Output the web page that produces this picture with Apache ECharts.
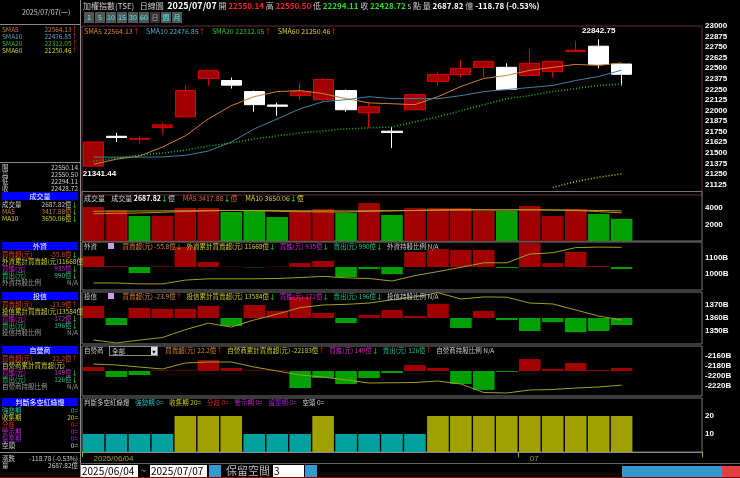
<!DOCTYPE html>
<html>
<head>
<meta charset="utf-8">
<script src="https://cdn.jsdelivr.net/npm/echarts@6/dist/echarts.min.js"></script>
<style>
  body { margin: 0; background: #000; font-family: "Noto Sans CJK TC", "DejaVu Sans", sans-serif; }
  #wrap { position: relative; width: 740px; height: 478px; overflow: hidden; background: #000; }
  #chart { position: absolute; left: 0; top: 0; width: 740px; height: 478px; }
  .t { position: absolute; font-size: 7px; line-height: 8px; white-space: nowrap; color: #ccc; }
  .h { position: absolute; left: 2px; width: 76px; height: 8px; background: #0000ff; color: #fff; font-size: 7px; line-height: 8px; text-align: center; }
  .row { position: absolute; left: 2px; width: 76px; font-size: 6.5px; line-height: 7px; display: flex; justify-content: space-between; white-space: nowrap; }
  .btn { display: inline-block; width: 10px; height: 11px; margin-right: 1px; background: #555; color: #3ff; font-size: 7px; line-height: 11px; text-align: center; vertical-align: top; }
  .inp { position: absolute; top: 465px; height: 12px; background: #fff; color: #000; font-size: 10px; line-height: 12px; padding-left: 1px; }
</style>
</head>
<body>
<div id="wrap">
<div id="chart"></div>
<div id="overlay"></div>
</div>
<script>
const dates = ['2025/06/04','2025/06/05','2025/06/06','2025/06/09','2025/06/10','2025/06/11','2025/06/12','2025/06/13',
  '2025/06/16','2025/06/17','2025/06/18','2025/06/19','2025/06/20','2025/06/23','2025/06/24','2025/06/25',
  '2025/06/26','2025/06/27','2025/06/30','2025/07/01','2025/07/02','2025/07/03','2025/07/04','2025/07/07','','',''];
// open, close, low, high
const ohlc = [
  [21341.44, 21627, 21341.44, 21630], [21695, 21680, 21627, 21735], [21660, 21670, 21605, 21700],
  [21800, 21830, 21720, 21865], [21926, 22236, 21920, 22295], [22380, 22475, 22295, 22480],
  [22355, 22300, 22260, 22390], [22224, 22069, 21985, 22236], [22065, 22050, 21937, 22093],
  [22176, 22224, 22117, 22331], [22128, 22367, 22105, 22380], [22236, 22009, 21985, 22248],
  [21973, 22045, 21794, 22093], [21755, 21740, 21555, 21806], [22009, 22188, 22000, 22200],
  [22343, 22427, 22296, 22463], [22427, 22499, 22391, 22594], [22511, 22582, 22391, 22590],
  [22511, 22248, 22240, 22558], [22415, 22558, 22403, 22725], [22463, 22582, 22391, 22590],
  [22700, 22713, 22690, 22821], [22761, 22546, 22499, 22842.75], [22550.14, 22428.72, 22294.11, 22550.50]
];
const sma5 = [21364, 21424, 21460, 21567, 21700, 21900, 22057, 22164, 22224, 22236, 22200, 22140,
  22090, 22080, 22069, 22164, 22284, 22379, 22415, 22475, 22510, 22546, 22534, 22564.13];
const sma10 = [21448, 21448, 21448, 21450, 21470, 21520, 21627, 21782, 21900, 22021, 22105, 22128,
  22164, 22140, 22140, 22140, 22176, 22224, 22248, 22272, 22296, 22355, 22403, 22476.85];
const sma20 = [21400, 21436, 21472, 21496, 21531, 21579, 21615, 21663, 21699, 21734, 21758, 21782,
  21794, 21806, 21866, 21925, 21997, 22069, 22140, 22176, 22224, 22260, 22296, 22312.05];
const sma60 = [null, null, null, null, null, null, null, null, null, null, null, null,
  null, null, null, null, null, null, null, null, 21090, 21160, 21210, 21250.46];
const volume = [4120, 3760, 3030, 3030, 4000, 4000, 3515, 3760, 2910, 3640, 3880, 3390,
  4600, 3150, 4000, 4000, 4000, 3640, 3640, 4240, 3030, 3880, 3270, 2687.82];
const volMa5 = [3300, 3350, 3400, 3480, 3580, 3650, 3700, 3680, 3600, 3550, 3520, 3500,
  3600, 3650, 3700, 3780, 3820, 3800, 3760, 3800, 3750, 3700, 3560, 3417.88];
const volMa10 = [3600, 3620, 3640, 3650, 3660, 3680, 3700, 3700, 3680, 3660, 3650, 3640,
  3660, 3680, 3700, 3720, 3740, 3760, 3760, 3780, 3760, 3740, 3700, 3650.06];
const foreignNet = [300, 20, -170, 15, 560, 140, 10, -10, 10, 110, 170, -280,
  -60, -200, 420, 500, 480, 480, -30, 670, 110, 420, 30, -55.8];
const foreignCum = [9440, 9440, 9380, 9380, 9620, 9700, 9700, 9700, 9720, 9780, 9850, 9760,
  9720, 9560, 9900, 10150, 10420, 10700, 10700, 11250, 11330, 11650, 11680, 11668];
const trustNet = [41, -24, 34, 31, 31, 41, -27, 44, 24, 71, 17, -17,
  10, 27, 7, 48, -34, 24, -7, -44, -14, -48, -44, -23.9];
const trustCum = [13431, 13408, 13430, 13450, 13510, 13560, 13530, 13585, 13630, 13680, 13700, 13705,
  13715, 13740, 13762, 13795, 13746, 13762, 13760, 13715, 13708, 13662, 13615, 13584];
const dealerNet = [30, -44, -30, 4, 4, 81, 22, 4, 4, -126, -52, -96,
  -52, -15, 44, 22, -96, -140, -7, 89, 15, 59, 7, 22.2];
const dealerCum = [-21760, -21780, -21820, -21860, -21740, -21720, -21720, -21820, -21900, -21980, -22020, -22080,
  -22140, -22135, -22130, -22100, -22160, -22330, -22340, -22280, -22270, -22240, -22220, -22183];
const signal = [10, 10, 10, 10, 20, 20, 20, 10, 10, 10, 20, 10, 10, 10, 10, 20, 20, 20, 20, 20, 20, 20, 20, 20];

const RED = '#a00000', GREEN = '#00a000';
const upDown = (i) => i === 0 ? ohlc[0][1] >= ohlc[0][0] : ohlc[i][1] >= ohlc[i - 1][1];

const grids = [
  { left: 82, right: 38, top: 26, height: 169 },
  { left: 82, right: 38, top: 191.5, height: 49.5 },
  { left: 82, right: 38, top: 242, height: 48 },
  { left: 82, right: 38, top: 292, height: 52 },
  { left: 82, right: 38, top: 346, height: 50 },
  { left: 82, right: 38, top: 398, height: 54 }
];
const xAxes = grids.map((g, i) => ({
  type: 'category', gridIndex: i, data: dates, boundaryGap: true,
  axisLine: { show: i === 5, lineStyle: { color: '#888' } },
  axisTick: { show: i === 5, interval: (idx, v) => v === '2025/06/04' || v === '2025/07/01', lineStyle: { color: '#aa0' } },
  axisLabel: {
    show: i === 5, interval: 0, color: '#aaa020', fontSize: 8, margin: 3, align: 'left',
    formatter: (v) => v === '2025/06/04' ? v : (v === '2025/07/01' ? '07' : '')
  },
  splitLine: { show: false }
}));
const rightAxis = (gi, min, max, interval, show) => ({
  type: 'value', gridIndex: gi, position: 'right', min, max, interval, scale: true,
  axisLine: { show: false }, axisTick: { show: false }, splitLine: { show: false },
  axisLabel: { color: '#fff', fontSize: 8, fontWeight: 'bold', margin: 3, formatter: (v) => show(v) ? fmt(gi, v) : '' }
});
function fmt(gi, v) { return gi >= 2 && gi <= 4 ? (v / 10) + 'B' : String(v); }
const hiddenAxis = (gi, min, max) => ({ type: 'value', gridIndex: gi, min, max, show: false, splitLine: { show: false } });

const yAxes = [
  rightAxis(0, 21000, 23000, 125, (v) => v > 21000),
  rightAxis(1, 0, 6000, 2000, (v) => v === 2000 || v === 4000),
  rightAxis(2, 9000, 12000, 1000, (v) => v === 10000 || v === 11000),
  hiddenAxis(2, -644, 700),
  rightAxis(3, 13400, 13800, 100, (v) => v > 13400 && v < 13800),
  hiddenAxis(3, -88, 88),
  rightAxis(4, -22400, -21400, 200, (v) => v > -22400 && v < -21400),
  hiddenAxis(4, -185, 185),
  rightAxis(5, 0, 30, 10, (v) => v === 10 || v === 20)
];

const netBar = (arr, xi, yi) => ({
  type: 'bar', xAxisIndex: xi, yAxisIndex: yi, barCategoryGap: '6%',
  data: arr.map((v) => ({ value: v, itemStyle: { color: v >= 0 ? RED : GREEN } }))
});
const cumLine = (arr, xi, yi) => ({
  type: 'line', xAxisIndex: xi, yAxisIndex: yi, data: arr, symbol: 'none',
  lineStyle: { color: '#a0a020', width: 1 }
});

const option = {
  backgroundColor: '#000',
  animation: false,
  grid: grids.map((g, i) => Object.assign({ show: true, borderColor: i === 0 ? '#6a2a40' : '#777', borderWidth: 1 }, g)),
  xAxis: xAxes,
  yAxis: yAxes,
  series: [
    {
      type: 'candlestick', xAxisIndex: 0, yAxisIndex: 0, barWidth: '90%',
      data: ohlc,
      itemStyle: { color: RED, color0: '#fff', borderColor: '#e00000', borderColor0: '#fff', borderWidth: 1 },
      markPoint: {
        symbol: 'circle', symbolSize: 0,
        label: { color: '#fff', fontSize: 8, fontWeight: 'bold' },
        data: [
          { type: 'max', valueDim: 'highest', label: { offset: [0, -8], formatter: (p) => p.value.toFixed(2) } },
          { type: 'min', valueDim: 'lowest', label: { offset: [6, 8], formatter: (p) => p.value.toFixed(2) } }
        ]
      }
    },
    { type: 'line', data: sma5, symbol: 'none', lineStyle: { color: '#d08030', width: 1 } },
    { type: 'line', data: sma10, symbol: 'none', lineStyle: { color: '#4080a0', width: 1 } },
    { type: 'line', data: sma20, symbol: 'none', lineStyle: { color: '#20c020', width: 1.5, type: [1, 2] } },
    { type: 'line', data: sma60, symbol: 'none', lineStyle: { color: '#d0d020', width: 1.5, type: [1, 2] } },
    {
      type: 'bar', xAxisIndex: 1, yAxisIndex: 1, barCategoryGap: '6%',
      data: volume.map((v, i) => ({ value: v, itemStyle: { color: upDown(i) ? RED : GREEN } }))
    },
    { type: 'line', xAxisIndex: 1, yAxisIndex: 1, data: volMa5, symbol: 'none', lineStyle: { color: '#d08030', width: 1 } },
    { type: 'line', xAxisIndex: 1, yAxisIndex: 1, data: volMa10, symbol: 'none', lineStyle: { color: '#b0a020', width: 1 } },
    netBar(foreignNet, 2, 3), cumLine(foreignCum, 2, 2),
    netBar(trustNet, 3, 5), cumLine(trustCum, 3, 4),
    netBar(dealerNet, 4, 7), cumLine(dealerCum, 4, 6),
    {
      type: 'bar', xAxisIndex: 5, yAxisIndex: 8, barCategoryGap: '6%',
      data: signal.map((v) => ({ value: v, itemStyle: { color: v >= 20 ? '#a0a000' : '#00a0a0' } }))
    }
  ]
};
echarts.init(document.getElementById('chart')).setOption(option);

// text overlay
const ov = document.getElementById('overlay');
function t(x, y, html, color, size) {
  const d = document.createElement('div');
  d.className = 't'; d.style.left = x + 'px'; d.style.top = y + 'px';
  if (color) d.style.color = color;
  if (size) { d.style.fontSize = size + 'px'; d.style.lineHeight = (size + 1) + 'px'; }
  d.innerHTML = html; ov.appendChild(d);
}
function head(y, txt) {
  const d = document.createElement('div'); d.className = 'h'; d.style.top = y + 'px'; d.textContent = txt; ov.appendChild(d);
}
function row(y, a, b, color) {
  const d = document.createElement('div'); d.className = 'row'; d.style.top = y + 'px'; d.style.color = color || '#ccc';
  d.innerHTML = '<span>' + a + '</span><span>' + b + '</span>'; ov.appendChild(d);
}
function line(x, y, w, h, c) {
  const d = document.createElement('div');
  d.style.cssText = 'position:absolute;left:' + x + 'px;top:' + y + 'px;width:' + w + 'px;height:' + h + 'px;background:' + c;
  ov.appendChild(d);
}
const up = '<span style="color:#f22">↑</span>', dn = '<span style="color:#2f2">↓</span>';

// left panel
line(80, 0, 1, 478, '#888');
line(0, 24, 80, 1, '#888');
t(22, 8, '2025/07/07(一)', '#ccc', 7);
row(26, 'SMA5', '22564.13' + up, '#d08030');
row(33, 'SMA10', '22476.85' + up, '#60a0c0');
row(40, 'SMA20', '22312.05' + up, '#30c030');
row(47, 'SMA60', '21250.46' + up, '#d0d020');
line(0, 162, 80, 1, '#888');
row(164, '開', '22550.14'); row(171, '高', '22550.50'); row(178, '低', '22294.11'); row(185, '收', '22428.72');
head(192, '成交量');
row(201, '成交量', '2687.82億' + dn); row(208, 'MA5', '3417.88億' + dn, '#d08030'); row(215, 'MA10', '3650.06億' + dn, '#d0d020');
head(242, '外資');
row(251, '買賣超(元)', '-55.8億' + dn, '#e04020'); row(258, '外資累計買賣超(元)', '11668億', '#d0d020');
row(265, '買進(元)', '935億' + dn, '#d020d0'); row(272, '賣出(元)', '990億' + dn, '#20c080'); row(279, '外資持股比例', 'N/A', '#999');
head(292, '投信');
row(301, '買賣超(元)', '-23.9億' + up, '#e04020'); row(308, '投信累計買賣超(元)', '13584億', '#d0d020');
row(315, '買進(元)', '172億' + dn, '#d020d0'); row(322, '賣出(元)', '196億' + dn, '#20c080'); row(329, '投信持股比例', 'N/A', '#999');
head(346, '自營商');
row(355, '買賣超(元)', '22.2億' + up, '#e04020'); row(362, '自營商累計買賣超(元)', '', '#d0d020');
row(369, '買進(元)', '149億' + dn, '#d020d0'); row(376, '賣出(元)', '126億' + dn, '#20c080'); row(383, '自營商持股比例', 'N/A', '#999');
head(398, '判斷多空紅綠燈');
row(407, '強勢期', '0=', '#20c0c0'); row(414, '收集期', '20=', '#d0d020'); row(421, '分歧', '0=', '#e02020');
row(428, '警示期', '0=', '#d020d0'); row(435, '盤整期', '0=', '#a020d0'); row(442, '空頭', '0=', '#ccc');
line(0, 452, 80, 1, '#888');
row(455, '漲跌', '-118.78 (-0.53%)'); row(462, '量', '2687.82億');

// top header
t(83, 1, '加權指數(TSE)&nbsp;&nbsp; 日線圖 &nbsp;<b style="color:#fff;font-size:9px">2025/07/07</b> 開 <b style="color:#f22">22550.14</b> 高 <b style="color:#f22">22550.50</b> 低 <b style="color:#2d2">22294.11</b> 收 <b style="color:#2d2">22428.72</b> s 點 量 <b style="color:#fff">2687.82</b> 億 <b style="color:#fff">-118.78 (-0.53%)</b>', '#ccc', 8);
const bt = document.createElement('div');
bt.style.cssText = 'position:absolute;left:84px;top:12px;height:11px;font-size:7px;line-height:11px;white-space:nowrap';
['1', '5', '10', '15', '30', '60', '日', '週', '月'].forEach((s, i) => {
  const b = document.createElement('span'); b.className = 'btn'; b.textContent = s;
  if (i === 6) { b.style.background = '#333'; b.style.color = '#aaa'; }
  bt.appendChild(b);
});
ov.appendChild(bt);

// pane titles
t(84, 27, 'SMA5 22564.13' + up + ' &nbsp;&nbsp;&nbsp;<span style="color:#60a8c8">SMA10 22476.85' + up + '</span>&nbsp;&nbsp;&nbsp; <span style="color:#30c030">SMA20 22312.05' + up + '</span>&nbsp;&nbsp;&nbsp; <span style="color:#e0d030">SMA60 21250.46' + up + '</span>', '#e08030', 7);
t(84, 194, '成交量 &nbsp;&nbsp; 成交量 <b style="color:#fff">2687.82</b>' + dn + '億 &nbsp;&nbsp;&nbsp; <span style="color:#e06030">MA5 3417.88' + dn + '億</span> &nbsp;&nbsp;&nbsp; <span style="color:#e0d030">MA10 3650.06' + dn + '億</span>', '#ccc', 7);
const sq = '<span style="display:inline-block;width:6px;height:6px;background:#c8a0e0;margin:0 8px 0 10px"></span>';
t(84, 243, '外資 ' + sq + '<span style="color:#e08030">買賣超(元) -55.8億</span>' + dn + ' &nbsp; <span style="color:#d0d020">外資累計買賣超(元) 11668億</span>' + dn + ' &nbsp; <span style="color:#d020d0">買進(元) 935億</span>' + dn + ' &nbsp; <span style="color:#20c080">賣出(元) 990億</span>' + dn + ' &nbsp; 外資持股比例 N/A', '#ccc', 6.5);
t(84, 293, '投信 ' + sq + '<span style="color:#e08030">買賣超(元) -23.9億</span>' + up + ' &nbsp; <span style="color:#d0d020">投信累計買賣超(元) 13584億</span>' + dn + ' &nbsp; <span style="color:#d020d0">買進(元) 172億</span>' + dn + ' &nbsp; <span style="color:#20c080">賣出(元) 196億</span>' + dn + ' &nbsp; 投信持股比例 N/A', '#ccc', 6.5);
t(84, 347, '自營商 &nbsp;&nbsp;&nbsp;&nbsp;&nbsp;&nbsp;&nbsp;&nbsp;&nbsp;&nbsp;&nbsp;&nbsp;&nbsp;&nbsp;&nbsp;&nbsp;&nbsp;&nbsp;&nbsp;&nbsp;&nbsp;&nbsp;&nbsp;&nbsp;&nbsp;' + sq + '<span style="color:#e08030">買賣超(元) 22.2億</span>' + up + ' &nbsp; <span style="color:#d0d020">自營商累計買賣超(元) -22183億</span>' + up + ' &nbsp; <span style="color:#d020d0">買進(元) 149億</span>' + dn + ' &nbsp; <span style="color:#20c080">賣出(元) 126億</span>' + up + ' &nbsp; 自營商持股比例 N/A', '#ccc', 6.5);
const sel = document.createElement('div');
sel.style.cssText = 'position:absolute;left:109px;top:346px;width:45px;height:8px;background:#000;border:1px solid #888;color:#ccc;font-size:6.5px;line-height:8px;padding-left:2px';
sel.innerHTML = '全部<span style="float:right;background:#ddd;color:#000;width:6px;text-align:center">▾</span>';
ov.appendChild(sel);
t(84, 399, '判斷多空紅綠燈 &nbsp;&nbsp; <span style="color:#20c0c0">強勢期 0=</span> &nbsp;&nbsp; <span style="color:#d0d020">收集期 20=</span> &nbsp;&nbsp; <span style="color:#e02020">分歧 0=</span> &nbsp;&nbsp; <span style="color:#d020d0">警示期 0=</span> &nbsp;&nbsp; <span style="color:#a020d0">盤整期 0=</span> &nbsp;&nbsp; 空頭 0=', '#ccc', 6.5);

// bottom controls
line(80, 463, 660, 1, '#666');
const i1 = document.createElement('div'); i1.className = 'inp'; i1.style.left = '81px'; i1.style.width = '56px'; i1.textContent = '2025/06/04'; ov.appendChild(i1);
t(141, 466, '~', '#ccc', 9);
const i2 = document.createElement('div'); i2.className = 'inp'; i2.style.left = '150px'; i2.style.width = '56px'; i2.textContent = '2025/07/07'; ov.appendChild(i2);
line(209, 465, 12, 12, '#3399cc');
t(226, 464, '保留空間', '#bbb', 11);
const i3 = document.createElement('div'); i3.className = 'inp'; i3.style.left = '273px'; i3.style.width = '30px'; i3.textContent = '3'; ov.appendChild(i3);
line(305, 465, 12, 12, '#3399cc');
line(622, 466, 118, 12, '#3399cc');
line(722, 466, 18, 12, '#e04040');
line(0, 477, 740, 1, '#800');
</script>
</body>
</html>
